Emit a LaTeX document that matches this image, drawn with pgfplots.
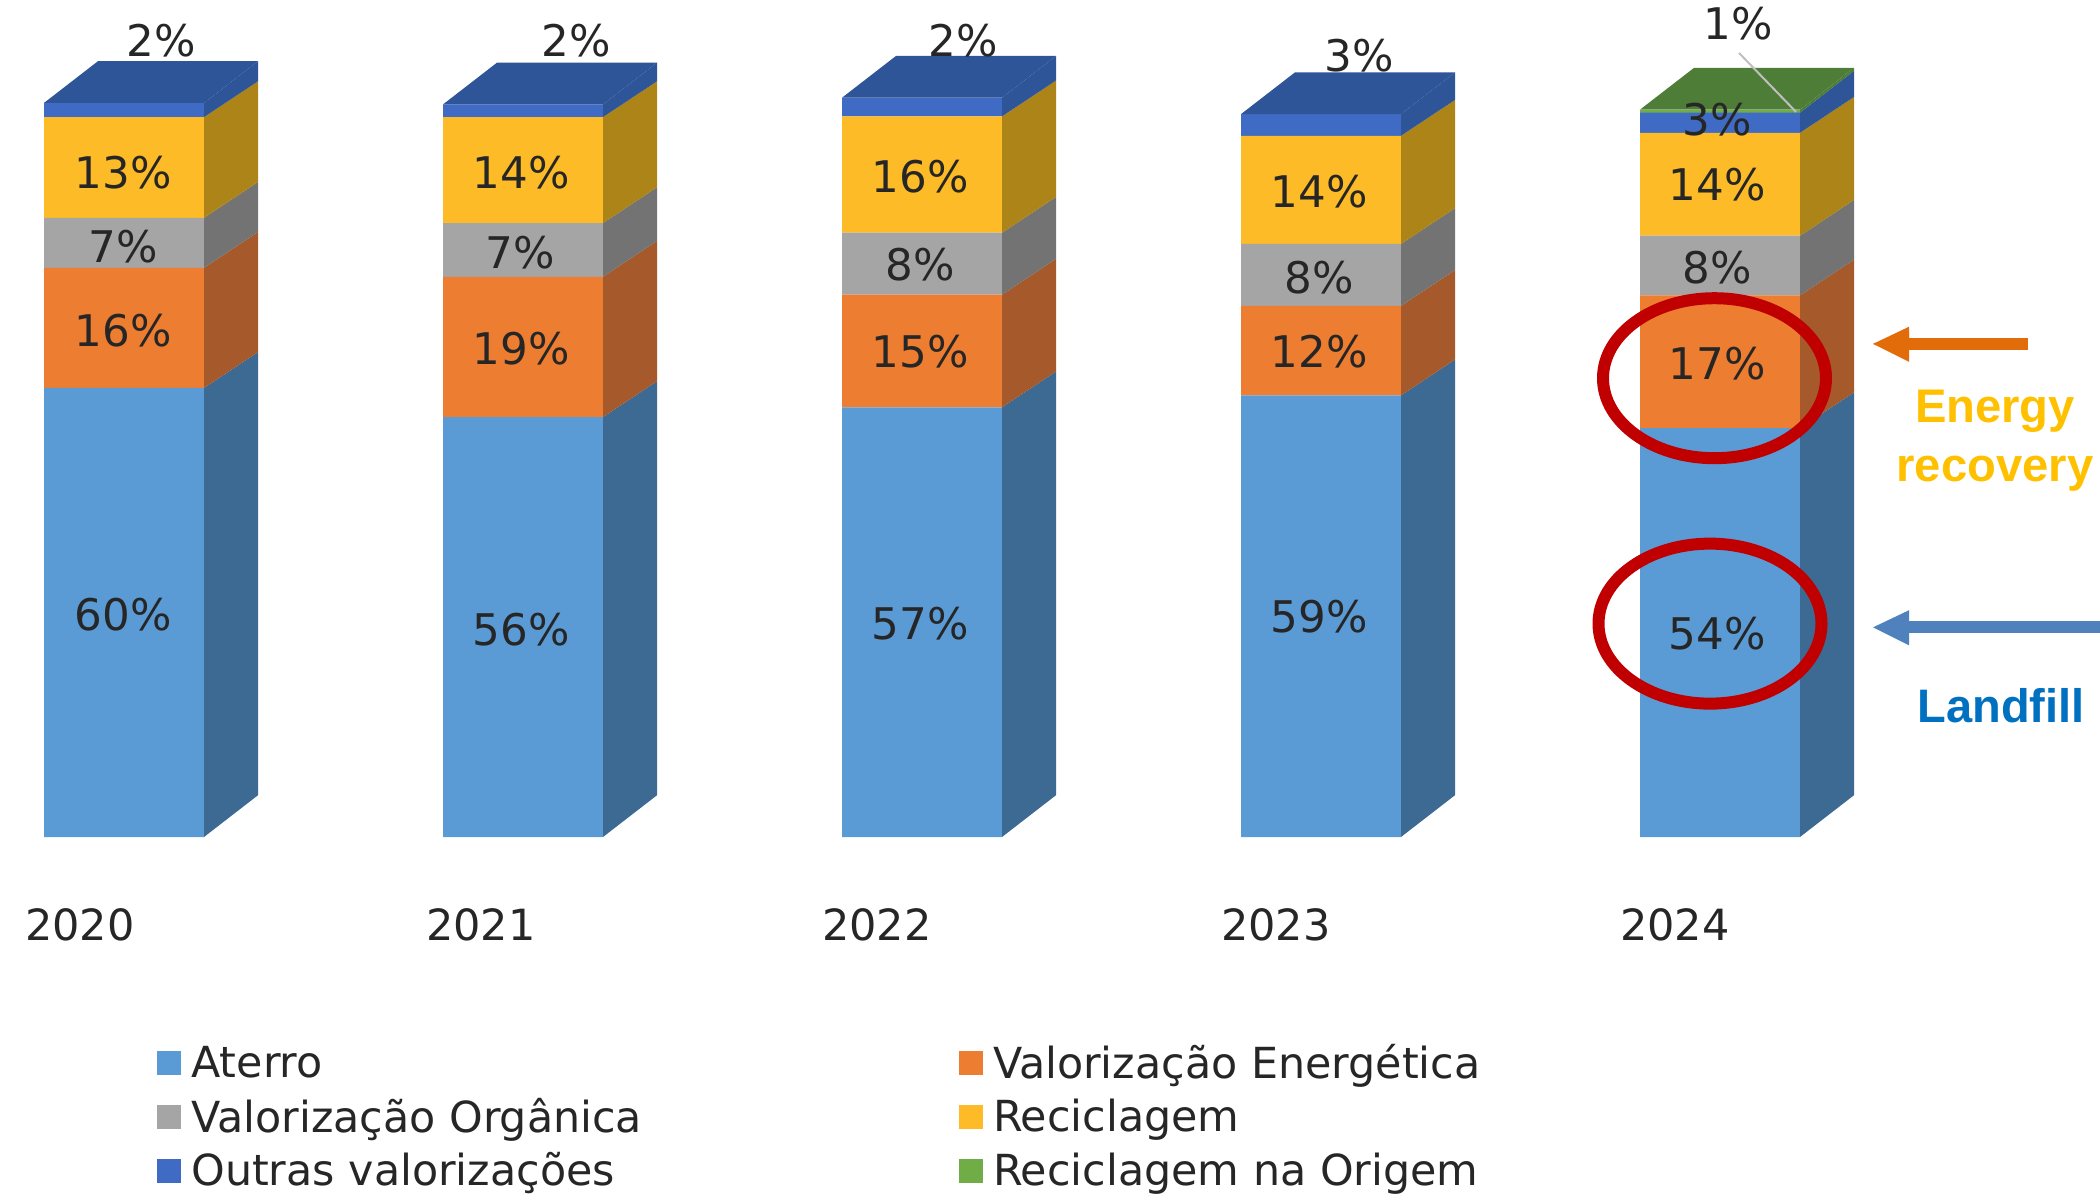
\documentclass[border=0pt]{standalone}
\usepackage{pgfplots}
\usepackage{fontspec}
\setmainfont{DejaVu Sans}
\newfontfamily\arialb{Liberation Sans Bold}
\pgfplotsset{compat=1.18}
\definecolor{cA}{HTML}{5B9BD5}\definecolor{cAs}{HTML}{3C6A93}
\definecolor{cE}{HTML}{ED7D31}\definecolor{cEs}{HTML}{A65A2B}
\definecolor{cO}{HTML}{A5A5A5}\definecolor{cOs}{HTML}{737373}
\definecolor{cR}{HTML}{FDBB27}\definecolor{cRs}{HTML}{AD8418}
\definecolor{cV}{HTML}{3F6BC4}\definecolor{cVs}{HTML}{2E5597}
\definecolor{cG}{HTML}{70AD47}\definecolor{cGs}{HTML}{4E7D38}
\definecolor{ring}{HTML}{C00000}
\definecolor{arrO}{HTML}{E36C0A}
\definecolor{arrB}{HTML}{4F81BD}
\definecolor{txtY}{HTML}{FFC000}
\definecolor{txtB}{HTML}{0070C0}
% side face: x, lower, upper, colour, lower offset, upper offset
\newcommand{\sideX}[6]{%
  \pgfmathsetmacro{\xb}{#1+54}\pgfmathsetmacro{\ya}{#2+#5}\pgfmathsetmacro{\yb}{#3+#6}%
  \addplot[fill=#4,draw=none,forget plot] coordinates {(#1,#2)(\xb,\ya)(\xb,\yb)(#1,#3)} --cycle;}
\newcommand{\side}[4]{\sideX{#1}{#2}{#3}{#4}{4.8}{4.8}}
\newcommand{\topf}[3]{%
  \pgfmathsetmacro{\xa}{#1+54}\pgfmathsetmacro{\xb}{#1+160}\pgfmathsetmacro{\xc}{#1+214}\pgfmathsetmacro{\yb}{#2+5.6}%
  \addplot[fill=#3,draw=none,forget plot] coordinates {(#1,#2)(\xa,\yb)(\xc,\yb)(\xb,#2)} --cycle;}
\begin{document}
\begin{tikzpicture}
\useasboundingbox (0,-178.5pt) rectangle (1050pt,418.5pt);
\pgfplotsset{base/.style={
  scale only axis, width=1050pt, height=418.5pt,
  xmin=0, xmax=2100, ymin=0, ymax=112.2, clip=false,
  anchor=origin, at={(0,0)}}}
\begin{axis}[base,
  ybar stacked, bar width=80pt,
  axis line style={draw=none}, tick style={draw=none},
  ytick=\empty,
  xtick={80,481,877,1276,1675},
  xticklabels={2020,2021,2022,2023,2024},
  xticklabel style={font=\fontsize{21.5}{26}\selectfont, text=black!85, anchor=center, yshift=-44pt},
  legend columns=2,
  legend cell align=left,
  legend style={draw=none, fill=none, at={(axis cs:157,-27.2)}, anchor=north west,
    font=\fontsize{21.4}{26}\selectfont, text=black!85, inner sep=0pt, row sep=4.4pt,
    /tikz/column 1/.style={column sep=3pt},
    /tikz/column 2/.style={column sep=156.5pt},
    /tikz/column 3/.style={column sep=3pt}},
  legend image code/.code={\fill[#1] (0pt,-6pt) rectangle (12pt,6pt);},
]
\addplot[fill=cA,draw=none] coordinates {(124,60.2)(523,56.3)(922,57.6)(1321,59.2)(1720,54.8)};
\addplot[fill=cE,draw=none] coordinates {(124,16.1)(523,18.8)(922,15.1)(1321,12.0)(1720,17.8)};
\addplot[fill=cO,draw=none] coordinates {(124,6.7)(523,7.2)(922,8.3)(1321,8.3)(1720,8.0)};
\addplot[fill=cR,draw=none] coordinates {(124,13.5)(523,14.2)(922,15.6)(1321,14.5)(1720,13.8)};
\addplot[fill=cV,draw=none] coordinates {(124,1.9)(523,1.7)(922,2.5)(1321,2.9)(1720,2.7)};
\addplot[fill=cG,draw=none] coordinates {(124,0)(523,0)(922,0)(1321,0)(1720,0.4)};
\legend{Aterro,Valorização Energética,Valorização Orgânica,Reciclagem,Outras valorizações,Reciclagem na Origem}
\end{axis}
\begin{axis}[base, hide axis]
% 2020
\sideX{204}{0}{60.2}{cAs}{5.6}{4.8}\side{204}{60.2}{76.3}{cEs}\side{204}{76.3}{83.0}{cOs}\side{204}{83.0}{96.5}{cRs}\sideX{204}{96.5}{98.4}{cVs}{4.8}{5.6}\topf{44}{98.4}{cVs}
% 2021
\sideX{603}{0}{56.3}{cAs}{5.6}{4.8}\side{603}{56.3}{75.1}{cEs}\side{603}{75.1}{82.3}{cOs}\side{603}{82.3}{96.5}{cRs}\sideX{603}{96.5}{98.2}{cVs}{4.8}{5.6}\topf{443}{98.2}{cVs}
% 2022
\sideX{1002}{0}{57.6}{cAs}{5.6}{4.8}\side{1002}{57.6}{72.7}{cEs}\side{1002}{72.7}{81.0}{cOs}\side{1002}{81.0}{96.6}{cRs}\sideX{1002}{96.6}{99.1}{cVs}{4.8}{5.6}\topf{842}{99.1}{cVs}
% 2023
\sideX{1401}{0}{59.2}{cAs}{5.6}{4.8}\side{1401}{59.2}{71.2}{cEs}\side{1401}{71.2}{79.5}{cOs}\side{1401}{79.5}{94.0}{cRs}\sideX{1401}{94.0}{96.9}{cVs}{4.8}{5.6}\topf{1241}{96.9}{cVs}
% 2024
\sideX{1800}{0}{54.8}{cAs}{5.6}{4.8}\side{1800}{54.8}{72.6}{cEs}\side{1800}{72.6}{80.6}{cOs}\side{1800}{80.6}{94.4}{cRs}\sideX{1800}{94.4}{97.1}{cVs}{4.8}{5.6}\sideX{1800}{97.1}{97.5}{cGs}{5.6}{5.6}\topf{1640}{97.5}{cGs}
% leader line
\addplot[draw=black!25,line width=1pt,forget plot] coordinates {(1739,105.1)(1796,97.2)};
% data labels
\addplot[draw=none,forget plot,point meta=explicit symbolic,nodes near coords,
  every node near coord/.append style={anchor=center,font=\fontsize{21.8}{25}\selectfont,text=black!85,inner sep=0pt}]
  table[meta=label,row sep=\\] {
  x y label\\
  161 106.8 2\%\\ 123 89.0 13\%\\ 123 79.2 7\%\\ 123 67.9 16\%\\ 123 29.8 60\%\\
  576 106.8 2\%\\ 521 89.0 14\%\\ 520 78.3 7\%\\ 521 65.4 19\%\\ 521 27.8 56\%\\
  963 106.8 2\%\\ 920 88.5 16\%\\ 920 76.7 8\%\\ 920 65.0 15\%\\ 920 28.6 57\%\\
  1359 104.7 3\%\\ 1319 86.5 14\%\\ 1319 75.0 8\%\\ 1319 65.0 12\%\\ 1319 29.5 59\%\\
  1738 109.0 1\%\\ 1717 96.2 3\%\\ 1717 87.4 14\%\\ 1717 76.3 8\%\\ 1717 63.4 17\%\\ 1717 27.3 54\%\\
  };
% annotations: y% = (837-py)/7.46
\draw[color=ring,line width=6pt] (axis cs:1714.5,61.5) ellipse [x radius=55.75pt, y radius=40pt];
\draw[color=ring,line width=6pt] (axis cs:1710,28.6) ellipse [x radius=55.75pt, y radius=40pt];
\fill[arrO] (axis cs:2028,65.4) -- (axis cs:1909,65.4) -- (axis cs:1909,67.6) -- (axis cs:1873,66.1+0) -- cycle;
\fill[arrO] (axis cs:1873,66.1) -- (axis cs:1909,68.4) -- (axis cs:1909,63.7) -- cycle;
\fill[arrO] (axis cs:1905,65.3) rectangle (axis cs:2028,66.9);
\fill[arrB] (axis cs:1873,28.1) -- (axis cs:1909,30.4) -- (axis cs:1909,25.7) -- cycle;
\fill[arrB] (axis cs:1905,27.3) rectangle (axis cs:2100,28.9);
\node[anchor=base,text=txtY,font=\arialb\fontsize{23.6}{28}\selectfont,inner sep=0pt] at (axis cs:1995,55.5) {Energy};
\node[anchor=base,text=txtY,font=\arialb\fontsize{23.6}{28}\selectfont,inner sep=0pt] at (axis cs:1995,47.7) {recovery};
\node[anchor=base,text=txtB,font=\arialb\fontsize{23.5}{28}\selectfont,inner sep=0pt] at (axis cs:2001,15.3) {Landfill};
\end{axis}
\end{tikzpicture}
\end{document}
